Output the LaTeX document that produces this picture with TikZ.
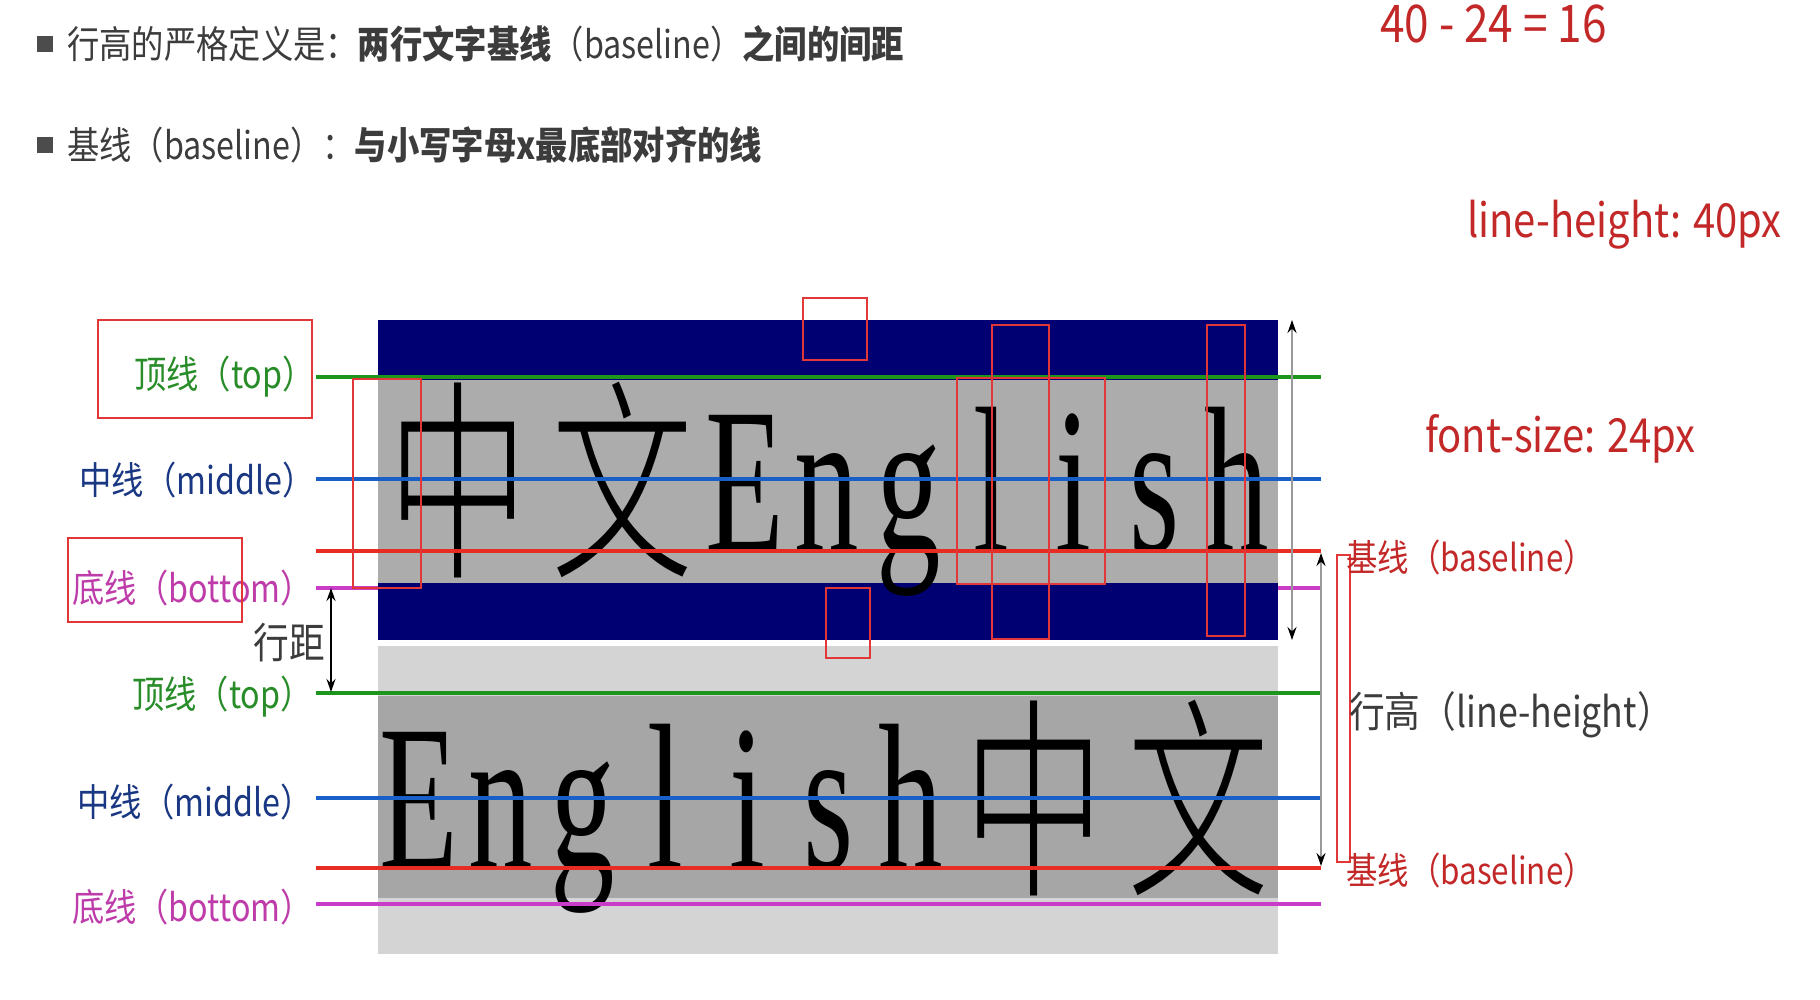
\documentclass[tikz,border=0pt]{standalone}
\usepackage{fontspec}
\setmainfont{Noto Sans CJK SC}[FakeStretch=0.85]
\newfontfamily\glyphlatin{Liberation Serif}[FakeStretch=0.62]
\newfontfamily\glyphcjk{Noto Sans CJK SC Light}[FakeStretch=0.66]
\usetikzlibrary{arrows.meta, positioning}
\definecolor{navyband}{RGB}{0, 0, 115}
\definecolor{topgray}{RGB}{172, 172, 172}
\definecolor{lightband}{RGB}{212, 212, 212}
\definecolor{midgray}{RGB}{166, 166, 166}
\definecolor{topgreen}{RGB}{30, 150, 30}
\definecolor{midblue}{RGB}{25, 95, 200}
\definecolor{basered}{RGB}{230, 45, 35}
\definecolor{botmagenta}{RGB}{200, 60, 200}
\definecolor{markred}{RGB}{225, 55, 55}
\definecolor{lblgreen}{RGB}{40, 140, 40}
\definecolor{lblblue}{RGB}{25, 55, 130}
\definecolor{lblmagenta}{RGB}{190, 60, 170}
\definecolor{lblred}{RGB}{195, 40, 40}
\definecolor{textdark}{RGB}{60, 60, 60}

\begin{document}
\begin{tikzpicture}[x=1pt, y=-1pt,
        latin/.style={anchor=base, inner sep=0pt, font=\glyphlatin\fontsize{208}{208}\selectfont},
        hanzi/.style={anchor=base, inner sep=0pt, font=\glyphcjk\fontsize{215}{215}\selectfont},
        bullet/.style={anchor=west, inner sep=0pt, text=textdark, font=\fontsize{38}{46}\selectfont},
        leftlbl/.style={anchor=east, inner sep=0pt, font=\fontsize{38}{46}\selectfont},
        rightlbl/.style={anchor=west, inner sep=0pt, font=\fontsize{37}{44}\selectfont},
        note/.style={anchor=base west, inner sep=0pt, text=lblred, font=\fontsize{47}{56}\selectfont},
        guide/.style={line width=4.5pt},
        markbox/.style={draw=markred, line width=2.5pt},
        dimarrow/.style={{Stealth[length=13pt, width=9pt, color=black]}-{Stealth[length=13pt, width=9pt, color=black]}, draw=black!40, line width=1.5pt}
    ]
    \useasboundingbox (0,0) rectangle (1820,1000);

    \coordinate (topAl) at (316,377);  \coordinate (topAr) at (1321,377);
    \coordinate (midAl) at (316,479);  \coordinate (midAr) at (1321,479);
    \coordinate (baseAl) at (316,551); \coordinate (baseAr) at (1321,551);
    \coordinate (botAl) at (316,588);  \coordinate (botAr) at (1321,588);
    \coordinate (topBl) at (316,693);  \coordinate (topBr) at (1321,693);
    \coordinate (midBl) at (316,798);  \coordinate (midBr) at (1321,798);
    \coordinate (baseBl) at (316,868); \coordinate (baseBr) at (1321,868);
    \coordinate (botBl) at (316,904);  \coordinate (botBr) at (1321,904);

    \fill[black!70] (37,36) rectangle (53,52);
    \fill[black!70] (37,137) rectangle (53,153);
    \node[bullet] (defA) at (67,44) {行高的严格定义是：\textbf{两行文字基线}（baseline）\textbf{之间的间距}};
    \node[bullet] (defB) at (67,145) {基线（baseline）：\textbf{与小写字母x最底部对齐的线}};

    \node[note, font=\fontsize{52}{60}\selectfont] (diff) at (1380,43) {40 - 24 = 16};
    \node[note] (lh) at (1467,238) {line-height: 40px};
    \node[note] (fs) at (1425,452) {font-size: 24px};

    \draw[guide, botmagenta] (botAl) -- (botAr);
    \fill[lightband] (378,646) rectangle (1278,954);
    \fill[midgray] (378,696) rectangle (1278,898);
    \fill[navyband] (378,320) rectangle (1278,640);
    \fill[topgray] (378,380) rectangle (1278,583);

    \node[hanzi] (zhongA) at (458,562) {中};
    \node[hanzi] (wenA) at (622,562) {文};
    \node[latin] (EA) at (745,551) {E};
    \node[latin] (nA) at (827,551) {n};
    \node[latin] (gA) at (909,551) {g};
    \node[latin] (lA) at (991,551) {l};
    \node[latin] (iA) at (1073,551) {i};
    \node[latin] (sA) at (1155,551) {s};
    \node[latin] (hA) at (1237,551) {h};

    \node[latin] (EB) at (419,868) {E};
    \node[latin] (nB) at (501,868) {n};
    \node[latin] (gB) at (583,868) {g};
    \node[latin] (lB) at (665,868) {l};
    \node[latin] (iB) at (747,868) {i};
    \node[latin] (sB) at (829,868) {s};
    \node[latin] (hB) at (911,868) {h};
    \node[hanzi] (zhongB) at (1034,880) {中};
    \node[hanzi] (wenB) at (1198,880) {文};

    \draw[guide, topgreen] (topAl) -- (topAr);
    \draw[guide, midblue] (midAl) -- (midAr);
    \draw[guide, basered] (baseAl) -- (baseAr);
    \draw[guide, topgreen] (topBl) -- (topBr);
    \draw[guide, midblue] (midBl) -- (midBr);
    \draw[guide, basered] (baseBl) -- (baseBr);
    \draw[guide, botmagenta] (botBl) -- (botBr);

    \draw[markbox] (353,379) rectangle (421,588);
    \draw[markbox] (803,298) rectangle (867,360);
    \draw[markbox] (826,588) rectangle (870,658);
    \draw[markbox] (957,378) rectangle (1105,584);
    \draw[markbox] (992,325) rectangle (1049,639);
    \draw[markbox] (1207,325) rectangle (1245,636);

    \node[leftlbl, text=lblgreen] (lbltopA) at (315,377) {顶线（top）};
    \node[leftlbl, text=lblblue] (lblmidA) at (315,480) {中线（middle）};
    \node[leftlbl, text=lblmagenta] (lblbotA) at (313,588) {底线（bottom）};
    \node[leftlbl, text=lblgreen] (lbltopB) at (313,697) {顶线（top）};
    \node[leftlbl, text=lblblue] (lblmidB) at (313,802) {中线（middle）};
    \node[leftlbl, text=lblmagenta] (lblbotB) at (313,907) {底线（bottom）};
    \draw[markbox] (98,320) rectangle (312,418);
    \draw[markbox] (68,538) rectangle (242,622);

    \node[leftlbl, text=textdark, font=\fontsize{42}{50}\selectfont] (gap) at (325,643) {行距};
    \coordinate (gapTop) at (331,588);
    \coordinate (gapBot) at (331,692);
    \draw[dimarrow, draw=black] (gapTop) -- (gapBot);

    \coordinate (fsTop) at (1292,320);
    \coordinate (fsBot) at (1292,640);
    \draw[dimarrow] (fsTop) -- (fsBot);
    \coordinate (lhTop) at (1321,553);
    \coordinate (lhBot) at (1321,866);
    \draw[dimarrow] (lhTop) -- (lhBot);
    \draw[markred, line width=2pt] (1337,555) rectangle (1350,862);

    \node[rightlbl, text=lblred] (baseLblA) at (1346,557) {基线（baseline）};
    \node[rightlbl, text=textdark, font=\fontsize{42}{50}\selectfont] (lhLbl) at (1349,715) {行高（line-height）};
    \node[rightlbl, text=lblred] (baseLblB) at (1346,870) {基线（baseline）};
\end{tikzpicture}
\end{document}
